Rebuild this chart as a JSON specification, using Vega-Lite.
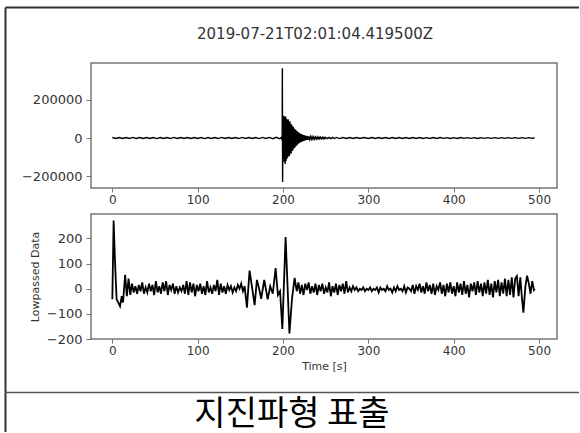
{
 "$schema": "https://vega.github.io/schema/vega-lite/v6.json",
 "background": "white",
 "padding": {"left": 5, "top": 7, "right": 0, "bottom": 0},
 "bounds": "flush",
 "spacing": 0,
 "config": {"font": "DejaVu Sans", "view": {"stroke": null}},
 "datasets": {
  "top": [
   {"t":0,"v":2500},{"t":4,"v":-2800},{"t":8,"v":2300},{"t":12,"v":-2600},{"t":16,"v":2700},{"t":20,"v":-2400},{"t":24,"v":2900},{"t":28,"v":-2500},{"t":32,"v":2200},{"t":36,"v":-2700},{"t":40,"v":2800},{"t":44,"v":-2300},{"t":48,"v":2500},{"t":52,"v":-2900},{"t":56,"v":2600},{"t":60,"v":-2200},{"t":64,"v":2400},{"t":68,"v":-2800},{"t":72,"v":3000},{"t":76,"v":-2500},{"t":80,"v":2700},{"t":84,"v":-2400},{"t":88,"v":2200},{"t":92,"v":-2700},{"t":96,"v":2800},{"t":100,"v":-2500},{"t":104,"v":2400},{"t":108,"v":-2900},{"t":112,"v":2600},{"t":116,"v":-2200},{"t":120,"v":2500},{"t":124,"v":-2800},{"t":128,"v":2900},{"t":132,"v":-2400},{"t":136,"v":2300},{"t":140,"v":-2700},{"t":144,"v":2500},{"t":148,"v":-2800},{"t":152,"v":3000},{"t":156,"v":-2500},{"t":160,"v":2400},{"t":164,"v":-2700},{"t":168,"v":2800},{"t":172,"v":-3000},{"t":176,"v":2900},{"t":180,"v":-2700},{"t":184,"v":3100},{"t":188,"v":-3300},{"t":192,"v":3400},{"t":196,"v":-3600},
   {"t":198,"v":3500},{"t":198.5,"v":-4000},{"t":199,"v":6000},{"t":199.2,"v":364000},{"t":199.5,"v":-230000},{"t":200,"v":60000},{"t":200.5,"v":-110000},{"t":201,"v":116000},{"t":201.5,"v":-125000},{"t":202,"v":110000},{"t":202.5,"v":-136000},{"t":203,"v":112000},{"t":203.5,"v":-120000},{"t":204,"v":100000},{"t":204.5,"v":-110000},{"t":205,"v":95000},{"t":205.5,"v":-100000},{"t":206,"v":98000},{"t":206.5,"v":-92000},{"t":207,"v":85000},{"t":207.5,"v":-95000},{"t":208,"v":88000},{"t":208.5,"v":-80000},{"t":209,"v":75000},{"t":209.5,"v":-82000},{"t":210,"v":70000},{"t":210.5,"v":-68000},{"t":211,"v":62000},{"t":211.5,"v":-65000},{"t":212,"v":58000},{"t":212.5,"v":-55000},{"t":213,"v":50000},{"t":213.5,"v":-52000},{"t":214,"v":46000},{"t":214.5,"v":-44000},{"t":215,"v":42000},{"t":215.5,"v":-40000},{"t":216,"v":36000},{"t":216.5,"v":-38000},{"t":217,"v":32000},{"t":217.5,"v":-30000},{"t":218,"v":30000},{"t":218.5,"v":-28000},{"t":219,"v":26000},{"t":219.5,"v":-25000},{"t":220,"v":24000},{"t":220.5,"v":-22000},{"t":221,"v":21000},{"t":221.5,"v":-20000},{"t":222,"v":19000},{"t":222.5,"v":-18000},{"t":223,"v":17000},{"t":223.5,"v":-16000},{"t":224,"v":15000},{"t":224.5,"v":-15000},{"t":225,"v":14000},{"t":225.5,"v":-13000},{"t":226,"v":12500},{"t":226.5,"v":-12000},{"t":227,"v":11000},{"t":227.5,"v":-10500},{"t":228,"v":10000},{"t":228.5,"v":-9500},{"t":229,"v":9000},{"t":229.5,"v":-8500},{"t":230,"v":8000},{"t":231,"v":-7500},{"t":232,"v":7000},{"t":233,"v":-6800},{"t":234,"v":6500},{"t":235,"v":-6000},{"t":236,"v":5800},{"t":237,"v":-5500},{"t":238,"v":5200},{"t":239,"v":-5000},{"t":240,"v":4800},{"t":241,"v":-4600},{"t":242,"v":4400},{"t":243,"v":-4200},{"t":244,"v":4000},{"t":245,"v":-3900},{"t":246,"v":3800},{"t":247,"v":-3600},{"t":248,"v":3500},{"t":249,"v":-3400},{"t":250,"v":3300},{"t":252,"v":-3200},{"t":254,"v":3100},{"t":256,"v":-3000},{"t":258,"v":3000},{"t":260,"v":-2900},{"t":263,"v":2900},{"t":266,"v":-2800},{"t":270,"v":2800},{"t":274,"v":-2700},{"t":278,"v":2700},{"t":282,"v":-2600},{"t":286,"v":2600},{"t":290,"v":-2500},{"t":295,"v":2500},{"t":300,"v":-2500},
   {"t":304,"v":2400},{"t":308,"v":-2500},{"t":312,"v":2300},{"t":316,"v":-2400},{"t":320,"v":2500},{"t":324,"v":-2300},{"t":328,"v":2400},{"t":332,"v":-2500},{"t":336,"v":2300},{"t":340,"v":-2400},{"t":344,"v":2200},{"t":348,"v":-2300},{"t":352,"v":2400},{"t":356,"v":-2200},{"t":360,"v":2300},{"t":364,"v":-2200},{"t":368,"v":2100},{"t":372,"v":-2300},{"t":376,"v":2200},{"t":380,"v":-2100},{"t":384,"v":2200},{"t":388,"v":-2000},{"t":392,"v":2100},{"t":396,"v":-2200},{"t":400,"v":2000},{"t":404,"v":-2100},{"t":408,"v":2200},{"t":412,"v":-2000},{"t":416,"v":2100},{"t":420,"v":-2000},{"t":424,"v":1900},{"t":428,"v":-2100},{"t":432,"v":2000},{"t":436,"v":-1900},{"t":440,"v":2000},{"t":444,"v":-1900},{"t":448,"v":1800},{"t":452,"v":-1900},{"t":456,"v":1800},{"t":460,"v":-1800},{"t":464,"v":1900},{"t":468,"v":-1800},{"t":472,"v":1700},{"t":476,"v":-1800},{"t":480,"v":1700},{"t":484,"v":-1600},{"t":488,"v":1700},{"t":492,"v":-1600},{"t":495,"v":500}
  ],
  "low": [
   {"t":0,"v":-42},{"t":1.5,"v":271},{"t":3,"v":120},{"t":5,"v":-42},{"t":7,"v":-55},{"t":9,"v":-70},{"t":11,"v":-30},{"t":12.5,"v":-55},{"t":15,"v":55},{"t":17,"v":-30},{"t":19,"v":40},{"t":21,"v":-25},{"t":23,"v":20},{"t":25,"v":-15},{"t":27,"v":10},{"t":29,"v":-20},{"t":31,"v":15},{"t":33,"v":-10},{"t":35,"v":25},{"t":37,"v":-20},{"t":39,"v":5},{"t":41,"v":-15},{"t":43,"v":20},{"t":45,"v":-10},{"t":47,"v":15},{"t":49,"v":-25},{"t":51,"v":30},{"t":53,"v":-15},{"t":55,"v":10},{"t":57,"v":-20},{"t":59,"v":25},{"t":61,"v":-10},{"t":63,"v":30},{"t":65,"v":-25},{"t":67,"v":15},{"t":69,"v":-5},{"t":71,"v":20},{"t":73,"v":-20},{"t":75,"v":10},{"t":77,"v":-15},{"t":79,"v":5},{"t":81,"v":-10},{"t":83,"v":15},{"t":85,"v":-20},{"t":87,"v":30},{"t":89,"v":-25},{"t":91,"v":25},{"t":93,"v":-15},{"t":95,"v":20},{"t":97,"v":-30},{"t":99,"v":15},{"t":101,"v":-10},{"t":103,"v":20},{"t":105,"v":-20},{"t":107,"v":10},{"t":109,"v":-25},{"t":111,"v":30},{"t":113,"v":-15},{"t":115,"v":5},{"t":117,"v":-20},{"t":119,"v":15},{"t":121,"v":-10},{"t":123,"v":35},{"t":125,"v":-25},{"t":127,"v":20},{"t":129,"v":-15},{"t":131,"v":10},{"t":133,"v":-20},{"t":135,"v":15},{"t":137,"v":-5},{"t":139,"v":10},{"t":141,"v":-15},{"t":143,"v":5},{"t":145,"v":-10},{"t":147,"v":15},{"t":149,"v":0},{"t":151,"v":20},{"t":153,"v":-10},{"t":155,"v":10},{"t":157.7,"v":-75},{"t":160.8,"v":72},{"t":163.5,"v":10},{"t":166.7,"v":-65},{"t":169.4,"v":35},{"t":172,"v":0},{"t":174.4,"v":-40},{"t":178,"v":35},{"t":182,"v":-42},{"t":185,"v":10},{"t":188,"v":-20},{"t":191.3,"v":82},{"t":194,"v":-25},{"t":196.5,"v":-10},{"t":199.2,"v":-160},{"t":203,"v":205},{"t":207.5,"v":-178},{"t":210.5,"v":-40},{"t":213.6,"v":43},{"t":216,"v":-10},{"t":218,"v":25},{"t":220,"v":-20},{"t":222,"v":15},{"t":224,"v":-25},{"t":226,"v":20},{"t":228,"v":-5},{"t":230,"v":25},{"t":232,"v":-20},{"t":234,"v":10},{"t":236,"v":-15},{"t":238,"v":20},{"t":240,"v":-25},{"t":242,"v":15},{"t":244,"v":-10},{"t":246,"v":20},{"t":248,"v":-20},{"t":250,"v":5},{"t":252,"v":-15},{"t":254,"v":25},{"t":256,"v":-30},{"t":258,"v":10},{"t":260,"v":-15},{"t":262,"v":20},{"t":264,"v":-25},{"t":266,"v":15},{"t":268,"v":-10},{"t":270,"v":20},{"t":272,"v":-20},{"t":274,"v":30},{"t":276,"v":-15},{"t":278,"v":5},{"t":280,"v":-10},{"t":282,"v":10},{"t":284,"v":-5},{"t":286,"v":5},{"t":288,"v":-10},{"t":290,"v":0},{"t":292,"v":-5},{"t":294,"v":5},{"t":296,"v":-10},{"t":298,"v":0},{"t":300,"v":-5},{"t":302,"v":5},{"t":304,"v":-10},{"t":306,"v":0},{"t":308,"v":-5},{"t":310,"v":5},{"t":312,"v":-15},{"t":314,"v":5},{"t":316,"v":-5},{"t":318,"v":0},{"t":320,"v":-10},{"t":322,"v":10},{"t":324,"v":-5},{"t":326,"v":0},{"t":328,"v":-15},{"t":330,"v":5},{"t":332,"v":-10},{"t":334,"v":10},{"t":336,"v":-5},{"t":338,"v":0},{"t":340,"v":-10},{"t":342,"v":10},{"t":344,"v":-15},{"t":346,"v":5},{"t":348,"v":0},{"t":350,"v":-10},{"t":352,"v":15},{"t":354,"v":-20},{"t":356,"v":10},{"t":358,"v":-5},{"t":360,"v":20},{"t":362,"v":-15},{"t":364,"v":10},{"t":366,"v":-20},{"t":368,"v":25},{"t":370,"v":-10},{"t":372,"v":15},{"t":374,"v":-20},{"t":376,"v":20},{"t":378,"v":-25},{"t":380,"v":10},{"t":382,"v":-5},{"t":384,"v":25},{"t":386,"v":-20},{"t":388,"v":15},{"t":390,"v":-30},{"t":392,"v":20},{"t":394,"v":-15},{"t":396,"v":25},{"t":398,"v":-20},{"t":400,"v":10},{"t":402,"v":-30},{"t":404,"v":25},{"t":406,"v":-15},{"t":408,"v":20},{"t":410,"v":-25},{"t":412,"v":30},{"t":414,"v":-20},{"t":416,"v":15},{"t":418,"v":-35},{"t":420,"v":20},{"t":422,"v":-10},{"t":424,"v":25},{"t":426,"v":-25},{"t":428,"v":30},{"t":430,"v":-15},{"t":432,"v":20},{"t":434,"v":-30},{"t":436,"v":25},{"t":438,"v":-20},{"t":440,"v":35},{"t":442,"v":-25},{"t":444,"v":20},{"t":446,"v":-35},{"t":448,"v":30},{"t":450,"v":-15},{"t":452,"v":35},{"t":454,"v":-30},{"t":456,"v":25},{"t":458,"v":-20},{"t":460,"v":40},{"t":462,"v":-30},{"t":464,"v":35},{"t":466,"v":-25},{"t":468,"v":45},{"t":470,"v":-35},{"t":472,"v":40},{"t":474,"v":50},{"t":476,"v":-30},{"t":478,"v":45},{"t":480,"v":-40},{"t":481.6,"v":-95},{"t":484,"v":10},{"t":486,"v":52},{"t":488,"v":20},{"t":490,"v":-20},{"t":492,"v":30},{"t":494,"v":-5},{"t":495,"v":0}
  ],
  "cap": [{"c": "지진파형 표출"}],
  "one": [{"k": 0}]
 },
 "vconcat": [
  {
   "bounds": "full",
   "spacing": 0,
   "vconcat": [
    {"width": 1, "height": 1, "view": {"stroke": null, "strokeWidth": 0}, "data": {"name": "one"}, "mark": {"type": "point", "opacity": 0, "size": 1}, "encoding": {}},
    {
     "spacing": 0,
     "hconcat": [
      {"width": 1, "height": 1, "view": {"stroke": null, "strokeWidth": 0}, "data": {"name": "one"}, "mark": {"type": "point", "opacity": 0, "size": 1}, "encoding": {}},
      {
       "spacing": 7,
       "vconcat": [
        {
         "width": 466,
         "height": 125,
         "view": {"stroke": "#777", "strokeWidth": 1.5},
         "title": {"text": " ", "subtitle": "2019-07-21T02:01:04.419500Z", "fontSize": 11.5, "subtitleFontSize": 15, "subtitleColor": "#333", "subtitleFont": "DejaVu Sans", "subtitlePadding": 6, "offset": 21, "dx": -9, "anchor": "middle"},
         "data": {"name": "top"},
         "mark": {"type": "line", "color": "black", "strokeWidth": 1.4, "clip": true},
         "encoding": {
          "x": {"field": "t", "type": "quantitative", "scale": {"domain": [-25, 521], "nice": false, "zero": false},
                "axis": {"values": [0, 100, 200, 300, 400, 500], "format": "d", "title": null, "grid": false, "domain": false, "tickColor": "#777", "tickSize": 4, "labelFontSize": 12, "labelColor": "#333", "labelPadding": 2, "labelFlush": false}},
          "y": {"field": "v", "type": "quantitative", "scale": {"domain": [-261000, 391600], "nice": false, "zero": false},
                "axis": {"values": [-200000, 0, 200000], "format": "d", "title": null, "grid": false, "domain": false, "tickColor": "#777", "tickSize": 5, "labelFontSize": 13, "labelColor": "#333", "labelPadding": 4, "minExtent": 84, "maxExtent": 84}}
         }
        },
        {
         "width": 466,
         "height": 125,
         "view": {"stroke": "#777", "strokeWidth": 1.5},
         "data": {"name": "low"},
         "mark": {"type": "line", "color": "black", "strokeWidth": 1.8, "clip": true},
         "encoding": {
          "x": {"field": "t", "type": "quantitative", "scale": {"domain": [-25, 521], "nice": false, "zero": false},
                "axis": {"values": [0, 100, 200, 300, 400, 500], "format": "d", "title": "Time [s]", "titleFontSize": 11, "titleFontWeight": "normal", "titleColor": "#333", "titlePadding": 4, "grid": false, "domain": false, "tickColor": "#777", "tickSize": 4, "labelFontSize": 12, "labelColor": "#333", "labelPadding": 2, "labelFlush": false}},
          "y": {"field": "v", "type": "quantitative", "scale": {"domain": [-200, 297], "nice": false, "zero": false},
                "axis": {"values": [-200, -100, 0, 100, 200], "format": "d", "title": "Lowpassed Data", "titleFontSize": 11, "titleFontWeight": "normal", "titleColor": "#333", "titlePadding": 5.5, "grid": false, "domain": false, "tickColor": "#777", "tickSize": 5, "labelFontSize": 13, "labelColor": "#333", "labelPadding": 4, "minExtent": 45, "maxExtent": 45}}
         }
        }
       ]
      }
     ]
    }
   ]
  },
  {
   "width": 574,
   "height": 385,
   "view": {"stroke": null, "strokeWidth": 0, "fill": null},
   "data": {"name": "one"},
   "mark": {"type": "point", "opacity": 0},
   "encoding": {
    "x": {"datum": 0.5, "type": "quantitative", "scale": {"domain": [0, 1]}, "axis": {"orient": "top", "domainColor": "#333", "domainWidth": 2, "ticks": false, "labels": false, "grid": false, "title": null}},
    "y": {"datum": 0.5, "type": "quantitative", "scale": {"domain": [0, 1]}, "axis": {"orient": "left", "domainColor": "#333", "domainWidth": 2, "ticks": false, "labels": false, "grid": false, "title": null}}
   }
  },
  {
   "width": 574,
   "height": 40,
   "view": {"stroke": null, "strokeWidth": 0, "fill": null},
   "data": {"name": "cap"},
   "mark": {"type": "text", "font": "Noto Sans CJK KR", "fontSize": 34, "color": "black", "baseline": "alphabetic", "clip": true},
   "encoding": {
    "text": {"field": "c", "type": "nominal"},
    "x": {"datum": 0.5, "type": "quantitative", "scale": {"domain": [0, 1]}, "axis": {"orient": "top", "domainColor": "#555", "domainWidth": 1.5, "ticks": false, "labels": false, "grid": false, "title": null}},
    "y": {"datum": 6.7, "type": "quantitative", "scale": {"domain": [0, 40]}, "axis": {"orient": "left", "domainColor": "#333", "domainWidth": 2, "ticks": false, "labels": false, "grid": false, "title": null}}
   }
  }
 ]
}
